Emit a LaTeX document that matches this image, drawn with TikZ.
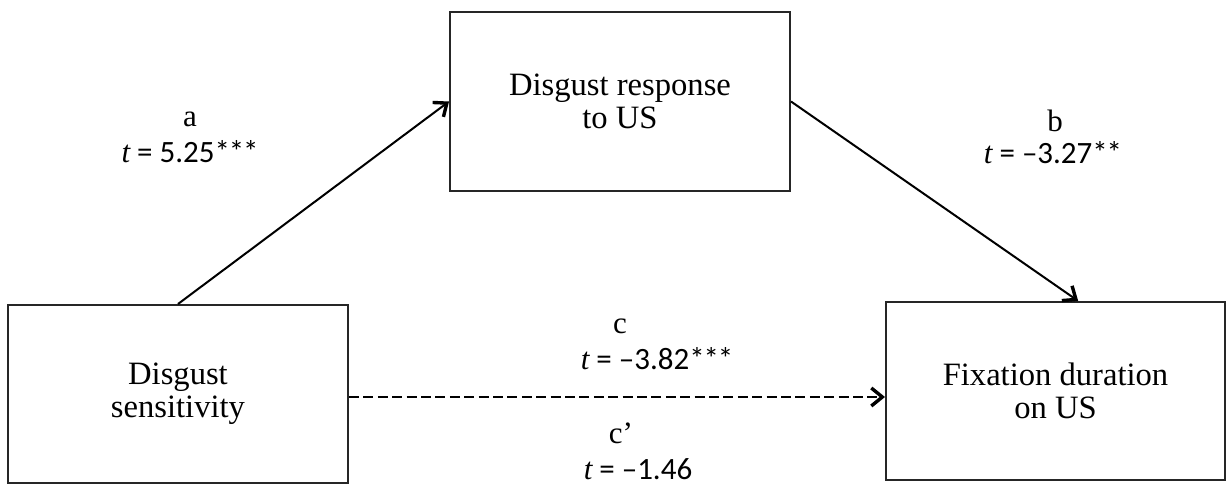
\documentclass[tikz,border=0pt]{standalone}
\usepackage{fontspec}
\setmainfont{Liberation Serif}
\newfontfamily\numf{Carlito}
\usetikzlibrary{arrows.meta,calc}
\newcommand{\kstar}{\kern-0.6pt*}
\begin{document}
\begin{tikzpicture}[x=0.5pt,y=-0.5pt,
  box/.style={draw=black!85,line width=1pt,fill=white,align=center,font=\fontsize{16.3}{16.5}\selectfont,inner sep=0pt},
  lab/.style={font=\fontsize{15.5}{16}\selectfont,inner sep=0pt,anchor=center},
  conn/.style={line width=1pt,-{Straight Barb[length=5.5pt,width=9pt,line width=1.7pt]}},
  dashconn/.style={conn,dash pattern=on 5pt off 2.2pt}]
\useasboundingbox (0,0) rectangle (1226,485);
\node[box,minimum width=170pt,minimum height=89.5pt] (top) at (620,101.5) {Disgust response\\to US};
\node[box,minimum width=170pt,minimum height=89pt] (left) at (178,394) {Disgust\\sensitivity};
\node[box,minimum width=169.5pt,minimum height=89pt] (right) at (1055.5,391) {Fixation duration\\on US};
\draw[conn] (left.north) -- (top.west);
\draw[conn] (top.east) -- ($(right.north)!0.133!(right.north east)$);
\draw[dashconn] ($(left.east)+(0,3)$) -- ($(left.east -| right.west)+(0,3)$);
\node[lab] (la) at (190,119) {a};
\node[lab] (lat) at (190,152) {\itshape t\upshape\numf{} = 5.25*\kstar\kstar};
\node[lab] (lb) at (1055,121) {b};
\node[lab] (lbt) at (1053,153) {\itshape t\upshape\numf{} = –3.27*\kstar};
\node[lab] (lc) at (620,326) {c};
\node[lab] (lct) at (657,359) {\itshape t\upshape\numf{} = –3.82*\kstar\kstar};
\node[lab] (lcp) at (621,433) {c’};
\node[lab] (lcpt) at (638,469) {\itshape t\upshape\numf{} = –1.46};
\end{tikzpicture}
\end{document}
